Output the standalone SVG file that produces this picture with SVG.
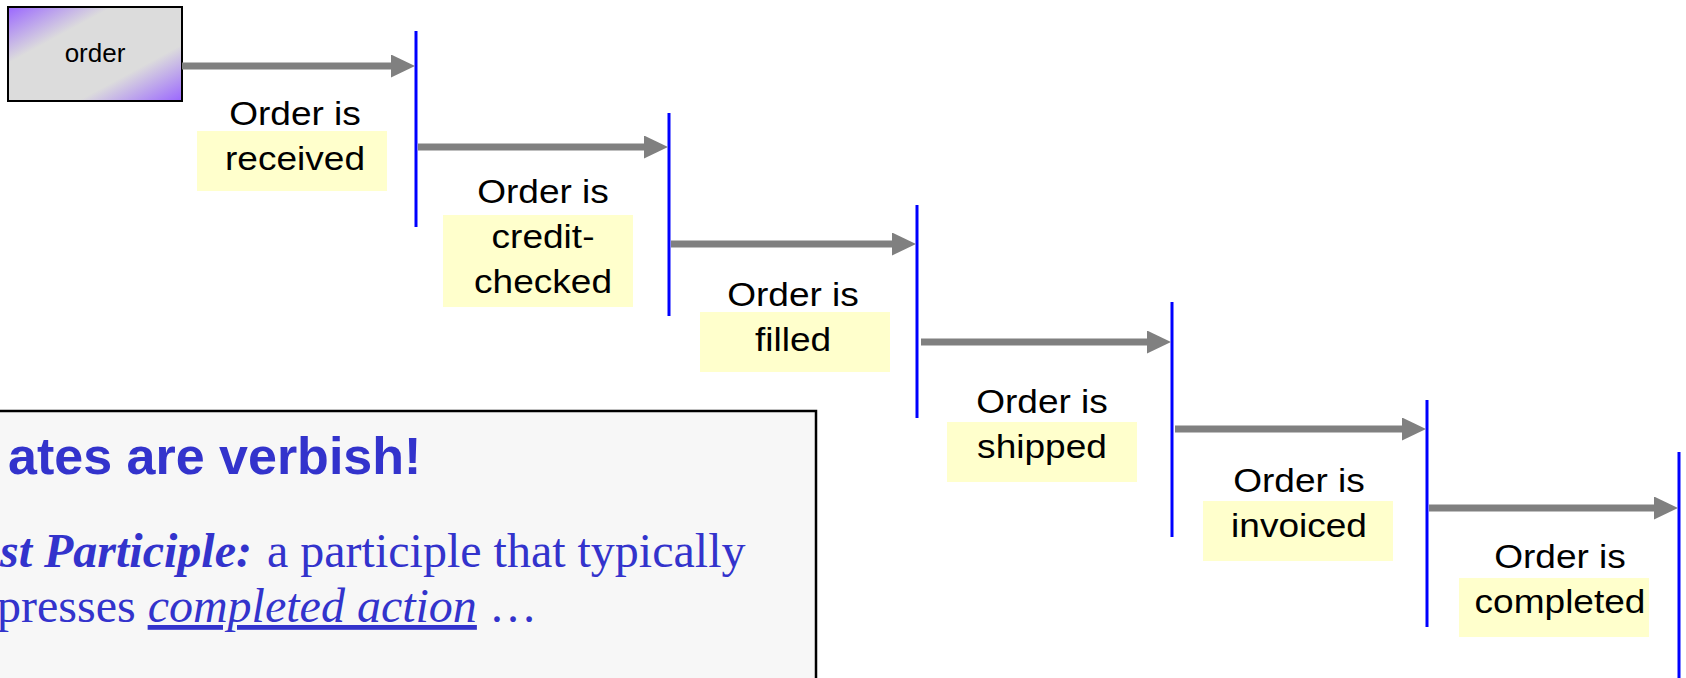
<svg xmlns="http://www.w3.org/2000/svg" width="1686" height="678" viewBox="0 0 1686 678">
  <style>
    .lbl { font-family: "Liberation Sans", Arial, sans-serif; font-size: 34px; fill: #000; text-anchor: middle; }
    .hl { fill: #ffffcc; }
    .bar { stroke: #0000ff; stroke-width: 3; fill: none; }
    .arr { stroke: #808080; stroke-width: 7; fill: none; marker-end: url(#head); }
    .note-title { font-family: "Liberation Sans", Arial, sans-serif; font-weight: bold; font-size: 52px; fill: #3333cc; }
    .note-body { font-family: "Liberation Serif", "Times New Roman", serif; font-size: 48px; fill: #3333cc; }
  </style>
  <defs>
    <linearGradient id="boxgrad" x1="0" y1="0" x2="1" y2="1">
      <stop offset="0" stop-color="#9a66ff"/>
      <stop offset="0.3" stop-color="#dcdcdc"/>
      <stop offset="0.7" stop-color="#dcdcdc"/>
      <stop offset="1" stop-color="#9a66ff"/>
    </linearGradient>
    <marker id="head" markerUnits="userSpaceOnUse" markerWidth="26" markerHeight="24" refX="2" refY="11.5" orient="auto">
      <path d="M0,0 L24,11.5 L0,23 Z" fill="#808080"/>
    </marker>
  </defs>

  <g id="note">
    <rect x="-10" y="411" width="826" height="290" fill="#f7f7f7" stroke="#000" stroke-width="2.5"/>
    <text class="note-title" x="8" y="474">ates are verbish!</text>
    <text class="note-body" y="567"><tspan x="0" font-weight="bold" font-style="italic">st Participle:</tspan><tspan x="267">a participle that typically</tspan></text>
    <text class="note-body" x="-3" y="622">presses <tspan font-style="italic" text-decoration="underline">completed action</tspan> …</text>
  </g>

  <g id="order">
    <rect x="8" y="7" width="174" height="94" fill="url(#boxgrad)" stroke="#000" stroke-width="2"/>
    <text x="95" y="62" font-family="Liberation Sans, Arial, sans-serif" font-size="26" text-anchor="middle">order</text>
  </g>

  <g id="state-bars">
    <line id="bar1" class="bar" x1="416" y1="31" x2="416" y2="227"/>
    <line id="bar2" class="bar" x1="669" y1="113" x2="669" y2="316"/>
    <line id="bar3" class="bar" x1="917" y1="205" x2="917" y2="418"/>
    <line id="bar4" class="bar" x1="1172" y1="302" x2="1172" y2="537"/>
    <line id="bar5" class="bar" x1="1427" y1="400" x2="1427" y2="627"/>
    <line id="bar6" class="bar" x1="1679" y1="452" x2="1679" y2="680"/>
  </g>

  <g id="connectors">
    <line class="arr" x1="182" y1="66" x2="393" y2="66"/>
    <line class="arr" x1="418" y1="147" x2="646" y2="147"/>
    <line class="arr" x1="671" y1="244" x2="894" y2="244"/>
    <line class="arr" x1="921" y1="342" x2="1149" y2="342"/>
    <line class="arr" x1="1175" y1="429" x2="1404" y2="429"/>
    <line class="arr" x1="1429" y1="508" x2="1656" y2="508"/>
  </g>

  <g id="state-received">
    <rect class="hl" x="197" y="131" width="190" height="60"/>
    <g transform="translate(295 0) scale(1.09 1)">
      <text class="lbl" x="0" y="125">Order is</text>
      <text class="lbl" x="0" y="170">received</text>
    </g>
  </g>
  <g id="state-credit-checked">
    <rect class="hl" x="443" y="215" width="190" height="92"/>
    <g transform="translate(543 0) scale(1.09 1)">
      <text class="lbl" x="0" y="203">Order is</text>
      <text class="lbl" x="0" y="248">credit-</text>
      <text class="lbl" x="0" y="293">checked</text>
    </g>
  </g>
  <g id="state-filled">
    <rect class="hl" x="700" y="312" width="190" height="60"/>
    <g transform="translate(793 0) scale(1.09 1)">
      <text class="lbl" x="0" y="306">Order is</text>
      <text class="lbl" x="0" y="351">filled</text>
    </g>
  </g>
  <g id="state-shipped">
    <rect class="hl" x="947" y="422" width="190" height="60"/>
    <g transform="translate(1042 0) scale(1.09 1)">
      <text class="lbl" x="0" y="413">Order is</text>
      <text class="lbl" x="0" y="458">shipped</text>
    </g>
  </g>
  <g id="state-invoiced">
    <rect class="hl" x="1203" y="501" width="190" height="60"/>
    <g transform="translate(1299 0) scale(1.09 1)">
      <text class="lbl" x="0" y="492">Order is</text>
      <text class="lbl" x="0" y="537">invoiced</text>
    </g>
  </g>
  <g id="state-completed">
    <rect class="hl" x="1459" y="578" width="190" height="59"/>
    <g transform="translate(1560 0) scale(1.09 1)">
      <text class="lbl" x="0" y="568">Order is</text>
      <text class="lbl" x="0" y="613">completed</text>
    </g>
  </g>
</svg>
